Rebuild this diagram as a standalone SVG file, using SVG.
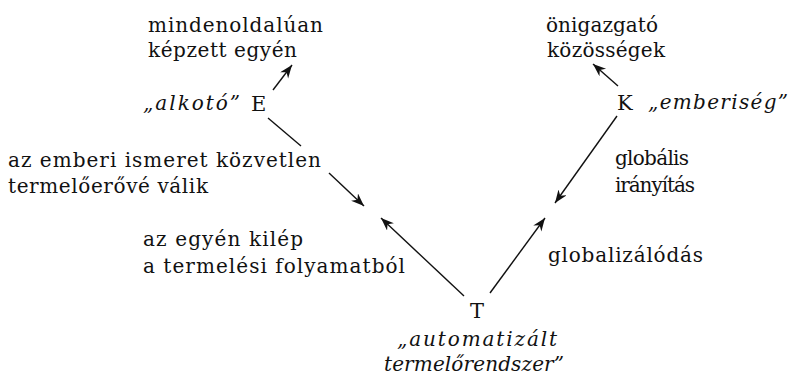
<svg xmlns="http://www.w3.org/2000/svg" width="789" height="376" viewBox="0 0 789 376">
<style>
  text { font-family: "DejaVu Serif", "Liberation Serif", serif; font-size: 20px; fill: #111; }
  .it { font-style: italic; }
  .big { font-size: 21px; }
  .conn line { stroke: #111; stroke-width: 1.4; fill: none; }
</style>
<defs>
  <marker id="arr" markerUnits="userSpaceOnUse" markerWidth="14" markerHeight="12" refX="13" refY="5" orient="auto">
    <path d="M0,0 L13,5 L0,10 L4,5 z" fill="#111"/>
  </marker>
</defs>
<rect width="789" height="376" fill="#fff"/>

<g id="label-mindenoldaluan">
  <text x="148" y="32" textLength="175" lengthAdjust="spacing">mindenoldalúan</text>
  <text x="148" y="57" textLength="149" lengthAdjust="spacing">képzett egyén</text>
</g>
<g id="label-onigazgato">
  <text x="546" y="32" textLength="112" lengthAdjust="spacing">önigazgató</text>
  <text x="547" y="57" textLength="118" lengthAdjust="spacing">közösségek</text>
</g>
<g id="node-E">
  <text class="it" x="143" y="110" textLength="97" lengthAdjust="spacing">„alkotó”</text>
  <text class="big" x="251" y="111">E</text>
</g>
<g id="node-K">
  <text class="big" x="617" y="110">K</text>
  <text class="it" x="648" y="109" textLength="140" lengthAdjust="spacing">„emberiség”</text>
</g>
<g id="label-ismeret">
  <text x="8" y="167" textLength="313" lengthAdjust="spacing">az emberi ismeret közvetlen</text>
  <text x="8" y="193" textLength="200" lengthAdjust="spacing">termelőerővé válik</text>
</g>
<g id="label-globalis">
  <text x="615" y="165" textLength="74" lengthAdjust="spacing">globális</text>
  <text x="615" y="192" textLength="80" lengthAdjust="spacing">irányítás</text>
</g>
<g id="label-kilep">
  <text x="143" y="246" textLength="160" lengthAdjust="spacing">az egyén kilép</text>
  <text x="143" y="273" textLength="262" lengthAdjust="spacing">a termelési folyamatból</text>
</g>
<g id="label-globalizalodas">
  <text x="548" y="262" textLength="155" lengthAdjust="spacing">globalizálódás</text>
</g>
<g id="node-T">
  <text class="big" x="470" y="318">T</text>
  <text class="it" x="397" y="346" textLength="160" lengthAdjust="spacing">„automatizált</text>
  <text class="it" x="384" y="371" textLength="180" lengthAdjust="spacing">termelőrendszer”</text>
</g>

<g id="connectors" class="conn">
  <line x1="273" y1="90" x2="292" y2="65" marker-end="url(#arr)"/>
  <line x1="268" y1="118" x2="301" y2="146"/>
  <line x1="329" y1="173" x2="364" y2="206" marker-end="url(#arr)"/>
  <line x1="464" y1="296" x2="381" y2="218" marker-end="url(#arr)"/>
  <line x1="490" y1="293" x2="545" y2="218" marker-end="url(#arr)"/>
  <line x1="618" y1="86" x2="593" y2="64" marker-end="url(#arr)"/>
  <line x1="617" y1="116" x2="555" y2="203" marker-end="url(#arr)"/>
</g>
</svg>
